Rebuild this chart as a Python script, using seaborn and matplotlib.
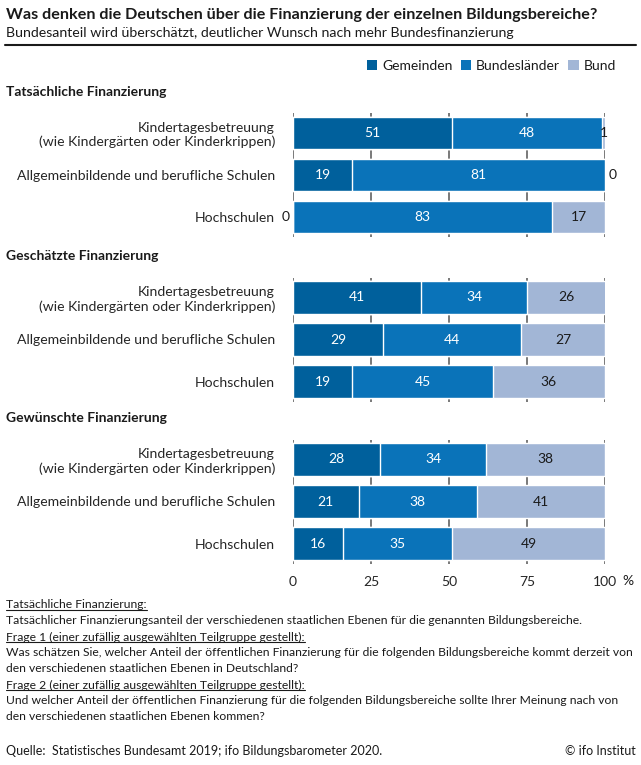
import numpy as np
import pandas as pd
import matplotlib
matplotlib.use('Agg')
import matplotlib.pyplot as plt
from matplotlib.patches import Patch
from matplotlib.lines import Line2D
import seaborn as sns

#%% data

bereiche = ['Kindertagesbetreuung\n(wie Kindergärten oder Kinderkrippen)',
            'Allgemeinbildende und berufliche Schulen',
            'Hochschulen']
ebenen = ['Gemeinden', 'Bundesländer', 'Bund']

panel_titel = ['Tatsächliche Finanzierung', 'Geschätzte Finanzierung', 'Gewünschte Finanzierung']

tats_gemeinden = [51, 19, 0]
tats_laender = [48, 81, 83]
tats_bund = [1, 0, 17]

gesch_gemeinden = [41, 29, 19]
gesch_laender = [34, 44, 45]
gesch_bund = [26, 27, 36]

gew_gemeinden = [28, 21, 16]
gew_laender = [34, 38, 35]
gew_bund = [38, 41, 49]

x_ticks = [0, 25, 50, 75, 100]

farben = ['#00609C', '#0A73B9', '#A2B6D6']
text_farben = ['white', 'white', '#1a1a1a']

#%% layout

W, H = 641, 765
sns.set_style('white')
plt.rcParams['font.family'] = ['Lato', 'DejaVu Sans']
plt.rcParams['text.color'] = '#1a1a1a'

fig = plt.figure(figsize=(W / 100, H / 100), dpi=100)


def fx(px):
    return px / W


def fy(px):
    return 1 - px / H


fig.text(fx(6), fy(15), 'Was denken die Deutschen über die Finanzierung der einzelnen Bildungsbereiche?',
         fontsize=11.6, fontweight='bold', va='center', ha='left')
fig.text(fx(6), fy(33), 'Bundesanteil wird überschätzt, deutlicher Wunsch nach mehr Bundesfinanzierung',
         fontsize=10.2, va='center', ha='left')
fig.add_artist(Line2D([fx(5), fx(636)], [fy(45), fy(45)], color='#1a1a1a', lw=1.5))

handles = [Patch(facecolor=c, edgecolor='none') for c in farben]
fig.legend(handles, ebenen, loc='center right', bbox_to_anchor=(fx(616), fy(66)), ncol=3,
           frameon=False, fontsize=10, handlelength=0.75, handleheight=0.75,
           handletextpad=0.35, columnspacing=0.6, borderaxespad=0, borderpad=0)

panels = [
    (tats_gemeinden, tats_laender, tats_bund),
    (gesch_gemeinden, gesch_laender, gesch_bund),
    (gew_gemeinden, gew_laender, gew_bund),
]
header_y = [92, 256, 418]
axes_top = [113, 277.5, 439.5]
axes_h = 124

for k, (gem, lae, bun) in enumerate(panels):
    fig.text(fx(6), fy(header_y[k]), panel_titel[k], fontsize=10, fontweight='bold',
             va='center', ha='left')
    ax = fig.add_axes([fx(293), fy(axes_top[k] + axes_h), fx(605) - fx(293), axes_h / H])

    werte = np.array([gem, lae, bun], dtype=float)
    kum = np.cumsum(werte, axis=0)

    # layered cumulative bars, back to front
    for i in [2, 1, 0]:
        df = pd.DataFrame({'bereich': bereiche, 'wert': kum[i]})
        sns.barplot(data=df, x='wert', y='bereich', orient='h', color=farben[i],
                    width=0.77, saturation=1, ax=ax, zorder=3)

    for j in range(3):
        for i in range(3):
            v = werte[i, j]
            start = kum[i, j] - v
            if v == 0:
                if i == 0:
                    ax.text(-1.2, j, '0', ha='right', va='center', fontsize=10, color='#1a1a1a')
                else:
                    ax.text(min(start, 100) + 1.2, j, '0', ha='left', va='center', fontsize=10,
                            color='#1a1a1a', clip_on=False)
            else:
                mitte = (start + min(kum[i, j], 100)) / 2
                ax.text(mitte, j, f'{int(v)}', ha='center', va='center', fontsize=10,
                        color=text_farben[i], zorder=5)

    ax.set_xlim(0, 100)
    ax.set_ylim(2.47, -0.47)
    ax.set_xticks(x_ticks)
    ax.grid(axis='x', color='#555555', lw=1.1)
    ax.grid(axis='y', visible=False)
    ax.set_axisbelow(True)
    for s in ax.spines.values():
        s.set_visible(False)
    ax.set_xlabel('')
    ax.set_ylabel('')
    ax.tick_params(axis='y', length=0, pad=13, labelsize=10.1)
    for lbl in ax.get_yticklabels():
        lbl.set_multialignment('right')
    if k < 2:
        ax.tick_params(axis='x', length=0, labelbottom=False)
    else:
        ax.tick_params(axis='x', length=0, pad=9, labelsize=10)

fig.text(fx(628), fy(581), '%', fontsize=10, ha='center', va='center')

#%% footnotes

fuss = [
    ('Tatsächliche Finanzierung:', True),
    ('Tatsächlicher Finanzierungsanteil der verschiedenen staatlichen Ebenen für die genannten Bildungsbereiche.', False),
    ('Frage 1 (einer zufällig ausgewählten Teilgruppe gestellt):', True),
    ('Was schätzen Sie, welcher Anteil der öffentlichen Finanzierung für die folgenden Bildungsbereiche kommt derzeit von', False),
    ('den verschiedenen staatlichen Ebenen in Deutschland?', False),
    ('Frage 2 (einer zufällig ausgewählten Teilgruppe gestellt):', True),
    ('Und welcher Anteil der öffentlichen Finanzierung für die folgenden Bildungsbereiche sollte Ihrer Meinung nach von', False),
    ('den verschiedenen staatlichen Ebenen kommen?', False),
]
fuss_y = [605, 621, 637, 653, 669, 685, 701, 717]
unterstrichen = []
for (txt, ul), y in zip(fuss, fuss_y):
    t = fig.text(fx(6), fy(y), txt, fontsize=8.7, ha='left', va='center')
    if ul:
        unterstrichen.append(t)

fig.text(fx(6), fy(751), 'Quelle:  Statistisches Bundesamt 2019; ifo Bildungsbarometer 2020.',
         fontsize=9, ha='left', va='center')
fig.text(fx(636), fy(751), '© ifo Institut', fontsize=9, ha='right', va='center')

fig.canvas.draw()
inv = fig.transFigure.inverted()
for t in unterstrichen:
    bb = t.get_window_extent().transformed(inv)
    fig.add_artist(Line2D([bb.x0, bb.x1], [bb.y0 + 0.001, bb.y0 + 0.001], color='#1a1a1a', lw=0.8))

fig.savefig('out.png', dpi=100)
